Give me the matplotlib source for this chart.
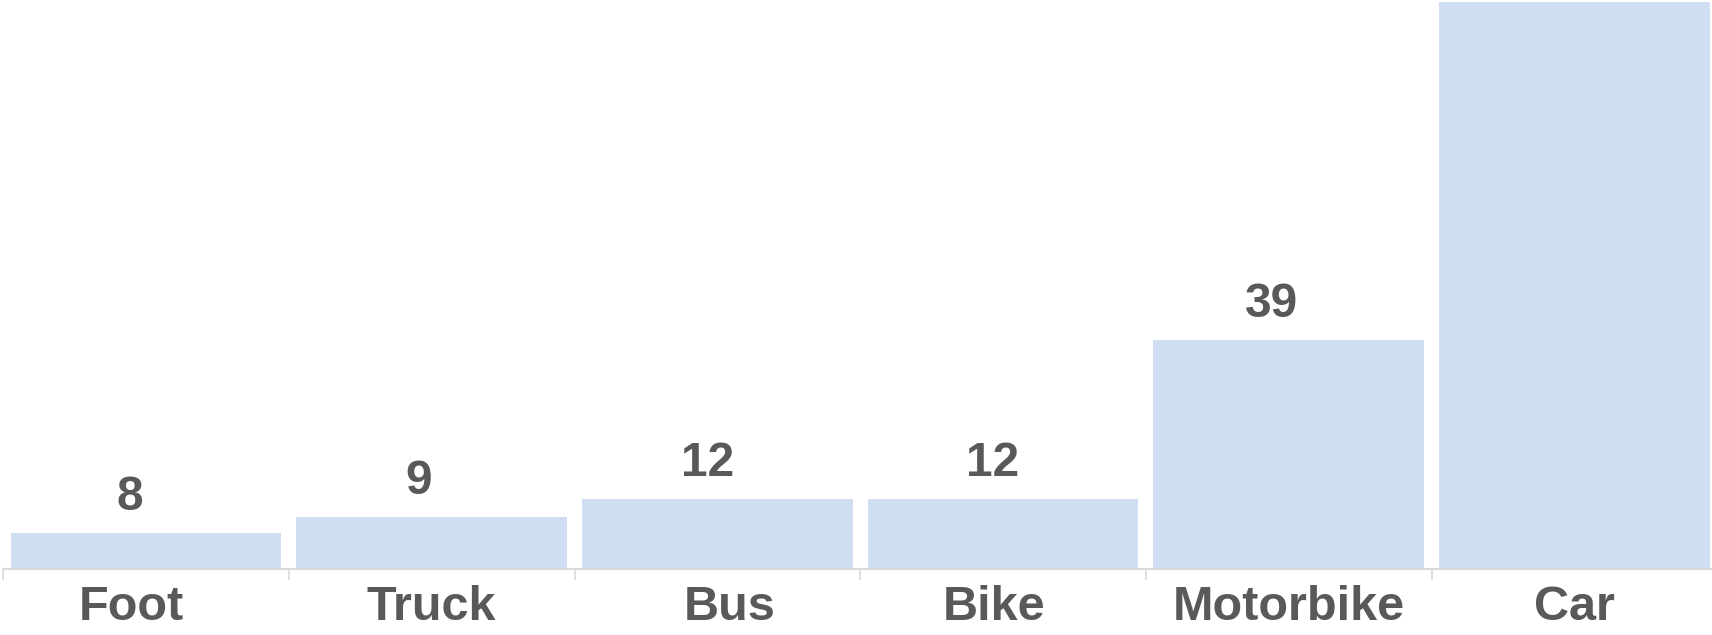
import numpy as np
import matplotlib
matplotlib.use("Agg")
import matplotlib.pyplot as plt
from matplotlib.transforms import ScaledTranslation

categories = ["Foot", "Truck", "Bus", "Bike", "Motorbike", "Car"]
values = [6.1, 8.9, 12, 12, 39, 100]
labels = ["8", "9", "12", "12", "39", "100"]

# small horizontal nudges (pixels) seen in the original rendering
value_nudge = [-16, -13, -10, -10, -17, 0]
cat_nudge = [-15, 0, 12, -9, 0, 0]

text_color = "#595959"
bar_color = "#cfdef3"
axis_color = "#d9d9d9"

plt.rcParams["font.family"] = ["Liberation Sans", "DejaVu Sans"]
plt.rcParams["font.weight"] = "bold"

fig = plt.figure(figsize=(17.12, 6.35), dpi=100)
ax = fig.add_axes([3.2 / 1712, 66 / 635, 1714 / 1712, 567 / 635])

x = np.arange(len(categories))
bars = ax.bar(x, values, width=0.948, color=bar_color, zorder=2)

for rect, lab, dx in zip(bars, labels, value_nudge):
    ax.annotate(lab, (rect.get_x() + rect.get_width() / 2, rect.get_height()),
                xytext=(dx * 0.72, 16.6), textcoords="offset points",
                ha="center", va="baseline", fontsize=34.5, fontweight="bold",
                color=text_color, annotation_clip=True, clip_on=True)

ax.set_xlim(-0.5, len(categories) - 0.5)
ax.set_ylim(0, 96.6)

ax.set_xticks(x)
ax.set_xticklabels(categories, fontsize=35, fontweight="bold", color=text_color)
ax.tick_params(axis="x", which="major", length=0, pad=11.5)
for t, dx in zip(ax.get_xticklabels(), cat_nudge):
    t.set_transform(t.get_transform() + ScaledTranslation(dx / 100, 0, fig.dpi_scale_trans))
ax.set_xticks(np.arange(-0.5, len(categories), 1.0), minor=True)
ax.tick_params(axis="x", which="minor", length=8, width=1.2, color=axis_color)
ax.set_yticks([])

for s in ["top", "right", "left"]:
    ax.spines[s].set_visible(False)
ax.spines["bottom"].set_color(axis_color)
ax.spines["bottom"].set_linewidth(1.5)

fig.savefig("out.png", dpi=100)
